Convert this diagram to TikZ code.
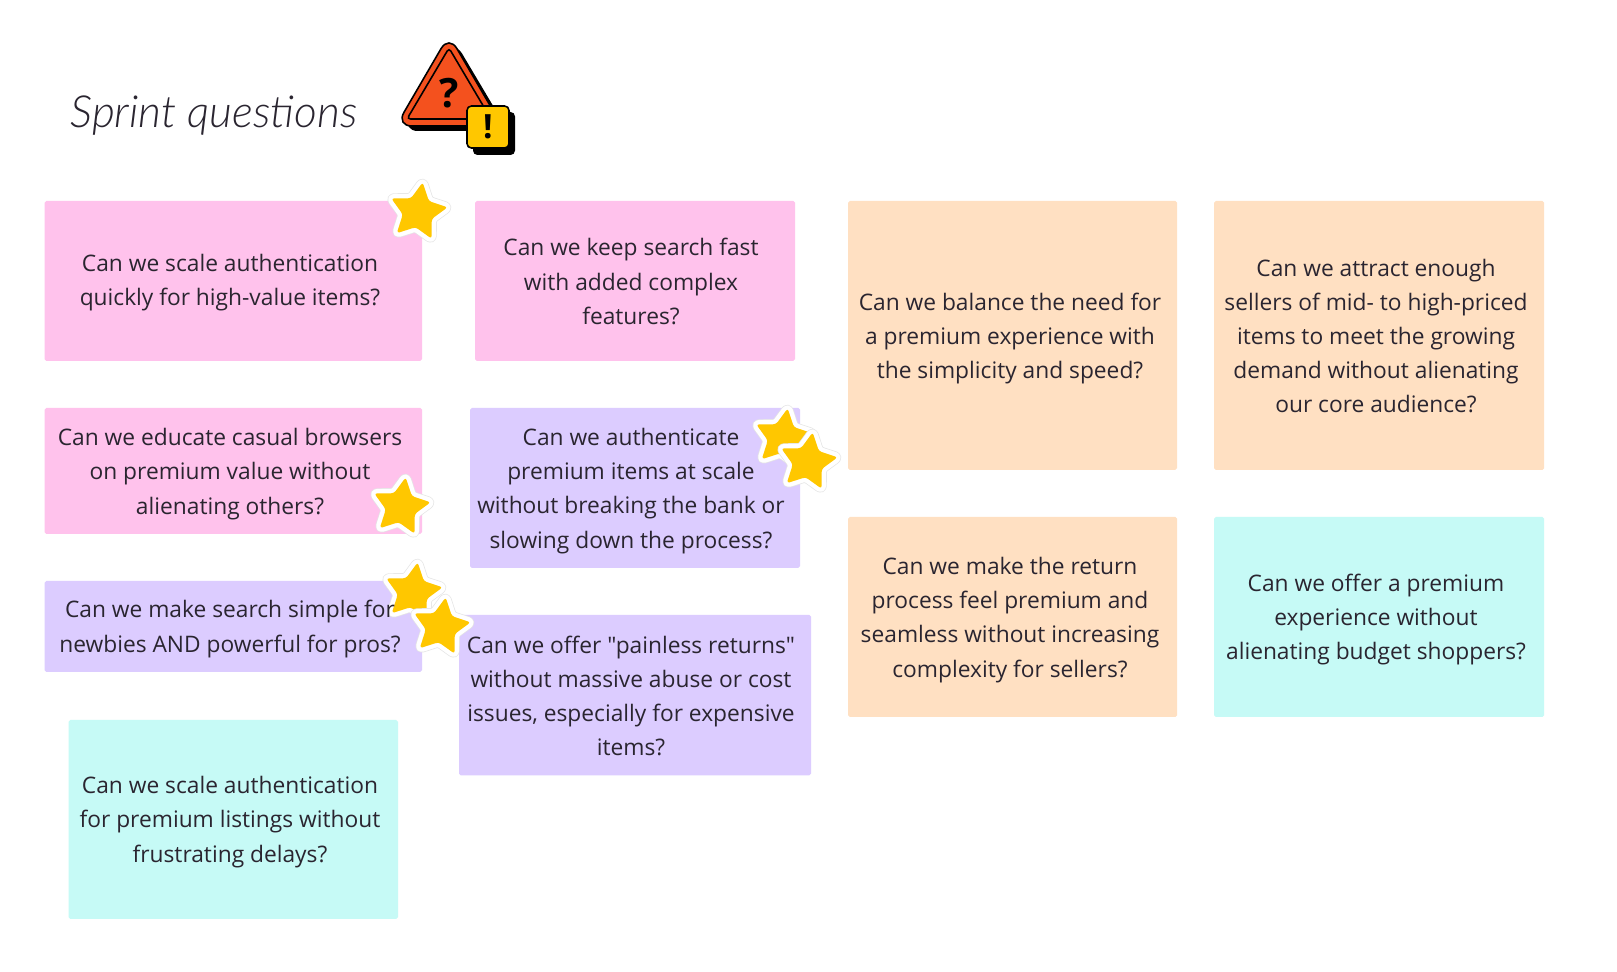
\documentclass[tikz,border=0pt]{standalone}
\usepackage{fontspec}
\setmainfont{Open Sans}
\newfontfamily\notefont{Open Sans}
\newfontfamily\handfont{Lato Light}
\usetikzlibrary{shapes.geometric}

\definecolor{pinknote}{HTML}{FFC2EC}
\definecolor{violetnote}{HTML}{DCCCFF}
\definecolor{orangenote}{HTML}{FFE0C2}
\definecolor{tealnote}{HTML}{C6FAF6}
\definecolor{stargold}{HTML}{FFC700}
\definecolor{warnred}{HTML}{F4511E}
\definecolor{inktext}{HTML}{2A2530}

\tikzset{
  note/.style={rounded corners=1pt},
  question/.style={align=center, text=inktext, inner sep=0pt, font=\notefont\fontsize{12.95}{19.45}\selectfont},
  goldstar/.style={star, star points=5, star point ratio=1.95, minimum size=1.2cm, inner sep=0pt,
    rounded corners=1.6pt, fill=stargold, line join=round,
    preaction={draw=black!10, line width=5.8pt},
    preaction={draw=white, line width=5pt}},
  warnbox/.style={rounded corners=2.5pt}
}

\begin{document}
\begin{tikzpicture}[x=0.02cm, y=-0.02cm]
\fill[white] (0,0) rectangle (1617,972);

% Title
\node[text=inktext, inner sep=0pt, font=\handfont\itshape\fontsize{25.2}{25}\selectfont] (title) at (214,116) {Sprint questions};

% Warning icon
\fill[black, rounded corners=9pt] (454,40) -- (402,131) -- (508,131) -- cycle;
\fill[warnred, draw=black, line width=0.9pt, rounded corners=9pt] (449,35) -- (396,126) -- (502,126) -- cycle;
\draw[black, line width=0.9pt, rounded corners=2pt] (449,48) -- (407,119) -- (491,119) -- cycle;
\node[font=\bfseries\fontsize{23}{23}\selectfont, inner sep=0pt] (qmark) at (449,93) {?};
\fill[black, warnbox] (473,112) rectangle (515,155);
\fill[stargold, draw=black, line width=0.9pt, warnbox] (467,106) rectangle (509,148);
\node[font=\bfseries\fontsize{19}{19}\selectfont, inner sep=0pt] (exmark) at (488,127) {!};

% Pink notes
\fill[pinknote, note] (44.5,201) rectangle (422,361);
\node[question] (scalequick) at (230,283) {Can we scale authentication\\quickly for high-value items?};
\fill[pinknote, note] (475,201) rectangle (795,361);
\node[question] (searchfast) at (631,281.5) {Can we keep search fast\\with added complex\\features?};
\fill[pinknote, note] (44.5,408) rectangle (422,534);
\node[question] (educate) at (230,474) {Can we educate casual browsers\\on premium value without\\alienating others?};

% Violet notes
\fill[violetnote, note] (470,408) rectangle (800,568);
\node[question] (authscale) at (631,491) {Can we authenticate\\premium items at scale\\without breaking the bank or\\slowing down the process?};
\fill[violetnote, note] (44.5,581) rectangle (422,672);
\fill[violetnote, note] (459,615) rectangle (811,775.5);
\node[question] (painless) at (631,696) {Can we offer "painless returns"\\without massive abuse or cost\\issues, especially for expensive\\items?};

% Orange notes
\fill[orangenote, note] (848,201) rectangle (1177,470);
\node[question] (balance) at (1010,338.5) {Can we balance the need for\\a premium experience with\\the simplicity and speed?};
\fill[orangenote, note] (1214,201) rectangle (1544,470);
\node[question] (sellers) at (1376,336) {Can we attract enough\\sellers of mid- to high-priced\\items to meet the growing\\demand without alienating\\our core audience?};
\fill[orangenote, note] (848,517) rectangle (1177,717);
\node[question] (returns) at (1010,620) {Can we make the return\\process feel premium and\\seamless without increasing\\complexity for sellers?};

% Teal notes
\fill[tealnote, note] (68.5,720) rectangle (398,919);
\node[question] (delays) at (230,822) {Can we scale authentication\\for premium listings without\\frustrating delays?};
\fill[tealnote, note] (1214,517) rectangle (1544,717);
\node[question] (budget) at (1376,619.5) {Can we offer a premium\\experience without\\alienating budget shoppers?};

% Stars
\node[goldstar, rotate=-9] (stara) at (418,212) {};
\node[goldstar, rotate=-9] (starb) at (401,507) {};
\node[goldstar, rotate=-9] (starc) at (783,438) {};
\node[goldstar, rotate=-9] (stard) at (808,462) {};
\node[goldstar, rotate=-9] (stare) at (413,592) {};
\node[goldstar, rotate=-9] (starf) at (441,627) {};

% This text stays clear of the stars
\node[question] (searchsimple) at (230,629) {Can we make search simple for\\newbies AND powerful for pros?};
\end{tikzpicture}
\end{document}
